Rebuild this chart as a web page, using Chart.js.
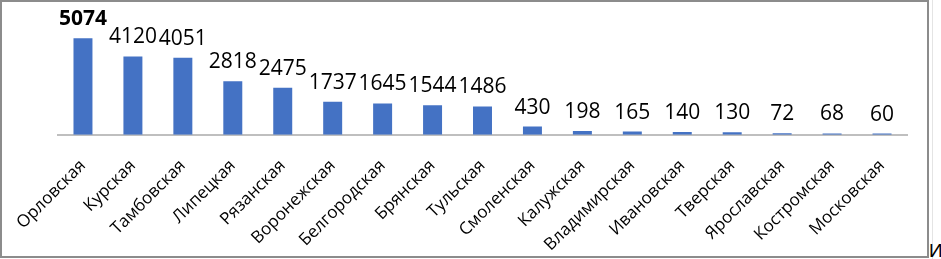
<!DOCTYPE html>
<html>
<head>
<meta charset="utf-8">
<script src="https://cdn.jsdelivr.net/npm/chart.js@4"></script>
<style>
  html, body { margin: 0; padding: 0; background: #fff; }
  #frame {
    position: absolute; left: 0; top: 0;
    width: 925px; height: 254px;
    border: 2px solid #8c8c8c;
  }
  #edge {
    position: absolute; left: 932px; top: 0;
    width: 1px; height: 259px; background: #e4e4e4;
  }
  #tail {
    position: absolute; left: 929px; top: 241px;
    font: 19px "Liberation Sans", Arial, sans-serif; line-height: 19px;
    color: #000;
  }
</style>
</head>
<body>
<div id="frame"><canvas id="myChart"></canvas></div>
<div id="edge"></div>
<div id="tail">И</div>
<script>
const regions = [
  "Орловская", "Курская", "Тамбовская", "Липецкая", "Рязанская",
  "Воронежская", "Белгородская", "Брянская", "Тульская", "Смоленская",
  "Калужская", "Владимирская", "Ивановская", "Тверская", "Ярославская",
  "Костромская", "Московская"
];
const values = [5074, 4120, 4051, 2818, 2475, 1737, 1645, 1544, 1486, 430, 198, 165, 140, 130, 72, 68, 60];
const yMax = 6000;

const labelFont = '"Open Sans", "Liberation Sans", sans-serif';

// numbers above the bars, the first one in bold
const valueLabels = {
  id: "valueLabels",
  afterDatasetsDraw(chart) {
    const ctx = chart.ctx;
    const meta = chart.getDatasetMeta(0);
    ctx.save();
    ctx.fillStyle = "#000";
    ctx.textAlign = "center";
    ctx.textBaseline = "alphabetic";
    meta.data.forEach((bar, i) => {
      ctx.font = (i === 0 ? "bold " : "") + "21px " + labelFont;
      ctx.fillText(String(values[i]), bar.x, bar.y - 13);
    });
    ctx.restore();
  }
};

const ctx = document.getElementById("myChart");
const myChart = new Chart(ctx, {
  type: "bar",
  data: {
    labels: regions,
    datasets: [
      {
        data: values,
        backgroundColor: "#4472C4",
        barPercentage: 0.38,
        categoryPercentage: 1
      }
    ]
  },
  options: {
    responsive: true,
    maintainAspectRatio: false,
    animation: false,
    layout: {
      padding: { left: 56, right: 20, top: 18.7, bottom: 0 }
    },
    plugins: {
      legend: { display: false },
      tooltip: { enabled: false }
    },
    scales: {
      x: {
        grid: { display: false },
        border: { display: true, color: "#bfbfbf", width: 2 },
        ticks: {
          color: "#000",
          font: { family: labelFont, size: 17 },
          minRotation: 45,
          maxRotation: 45,
          autoSkip: false,
          padding: 13
        },
        afterFit: (scale) => {
          scale.height = 121.3;
        }
      },
      y: {
        display: false,
        min: 0,
        max: yMax
      }
    }
  },
  plugins: [valueLabels]
});
</script>
</body>
</html>
